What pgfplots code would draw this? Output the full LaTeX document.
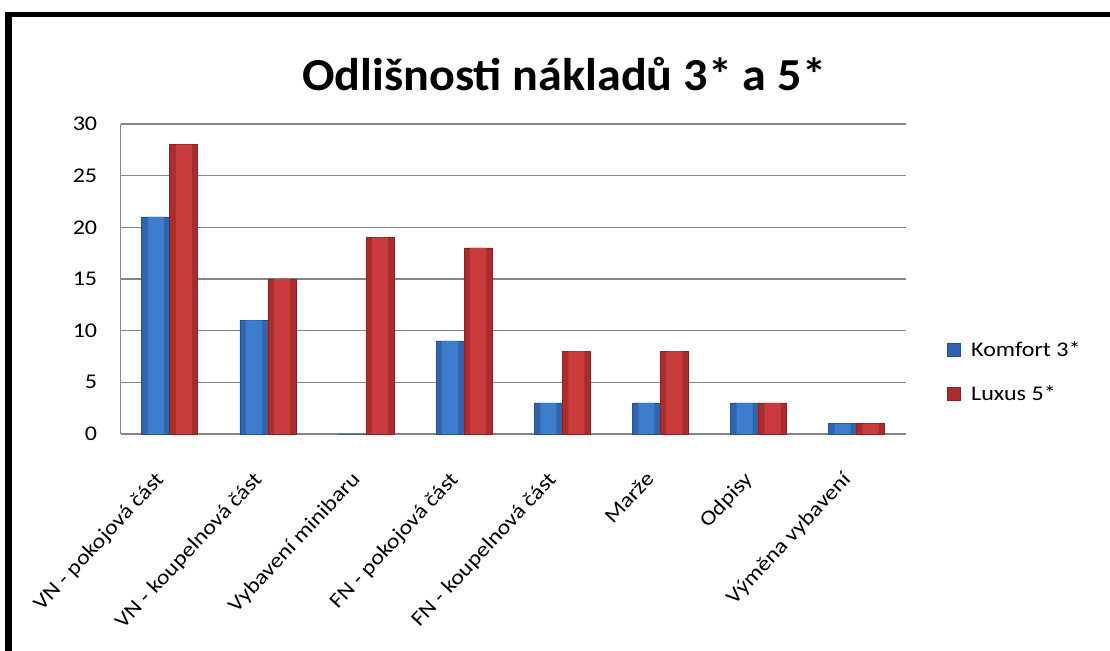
\documentclass[border=0pt]{standalone}
\usepackage{fontspec}
\setmainfont{Carlito}
\newfontfamily\lab[FakeStretch=1.15]{Carlito}
\newfontfamily\ttl[FakeStretch=1.05]{Carlito}
\usepackage{pgfplots}
\pgfplotsset{compat=1.18}
\definecolor{gridgray}{RGB}{134,134,134}
\definecolor{bA}{RGB}{48,100,172}
\definecolor{bB}{RGB}{62,125,205}
\definecolor{rA}{RGB}{170,45,45}
\definecolor{rB}{RGB}{202,60,60}
\pgfplotstableread{
x kom lux
0 21 28
1 11 15
2 0 19
3 9 18
4 3 8
5 3 8
6 3 3
7 1 1
}\data
\begin{document}
\begin{tikzpicture}[x=1bp,y=1bp]
\useasboundingbox (0,0) rectangle (1110,651);
\fill[white] (0,0) rectangle (1110,651);
\fill[black] (5,0) rectangle (12,639);
\fill[black] (5,634) rectangle (1110,639);
\node[font=\ttl\fontsize{46}{50}\selectfont\bfseries] at (564,577) {Odlišnosti nákladů 3* a 5*};
\begin{axis}[
  at={(123,210)}, anchor=south west,
  scale only axis, width=785bp, height=310bp,
  xmin=-0.5, xmax=7.5, ymin=0, ymax=30,
  ytick={0,5,...,30},
  xtick={0,...,7},
  xticklabels={VN - pokojová část, VN - koupelnová část, Vybavení minibaru, FN - pokojová část, FN - koupelnová část, Marže, Odpisy, Výměna vybavení},
  xticklabel style={rotate=47, anchor=north east, inner sep=1pt, xshift=-36bp, yshift=-12bp},
  yticklabel style={xshift=-20bp},
  /pgf/number format/assume math mode=true,
  ticklabel style={font=\lab\fontsize{21}{23}\selectfont},
  major tick length=0pt,
  ymajorgrids, grid style={gridgray, line width=1.5bp},
  axis x line*=bottom, axis y line*=left,
  axis line style={gridgray, line width=1.5bp, -},
  ybar, bar width=28bp,
  legend style={draw=none, at={(1.048,0.2)}, anchor=west, font=\lab\fontsize{21}{23}\selectfont, row sep=24bp, fill=none, nodes={inner xsep=11bp}},
  legend cell align=left,
  legend image code/.code={\fill[#1] (0bp,-6bp) rectangle (13bp,7bp);},
  clip=false,
]
\addplot[draw=bA!80!black, line width=0.6bp, fill=bA, bar shift=-14bp] table[x=x, y=kom] {\data};
\addplot[draw=rA!80!black, line width=0.6bp, fill=rA, bar shift=14bp] table[x=x, y=lux] {\data};
\addplot[draw=none, fill=bB, bar width=16bp, bar shift=-14bp, forget plot] table[x=x, y=kom] {\data};
\addplot[draw=none, fill=rB, bar width=16bp, bar shift=14bp, forget plot] table[x=x, y=lux] {\data};
\legend{Komfort 3*, Luxus 5*}
\end{axis}
\end{tikzpicture}
\end{document}
